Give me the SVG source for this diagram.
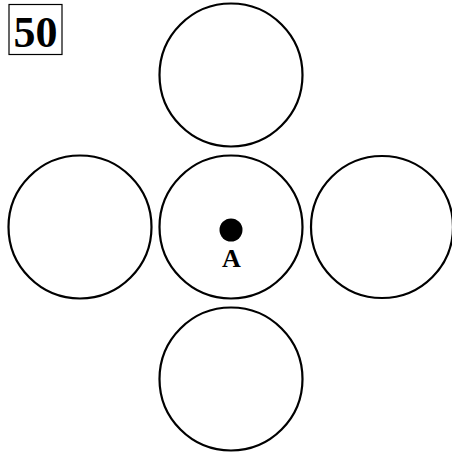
<svg xmlns="http://www.w3.org/2000/svg" width="452" height="459" viewBox="0 0 452 459">
<style>
.c{fill:none;stroke:#000;stroke-width:2.2}
.t{font-family:"Liberation Serif","Times New Roman",serif;font-weight:bold;text-anchor:middle;fill:#000}
</style>
<rect width="452" height="459" fill="#fff"/>
<g id="label50">
<rect x="9" y="4.5" width="53" height="50" fill="#fff" stroke="#000" stroke-width="1.2"/>
<text class="t" x="35.5" y="46.5" font-size="44">50</text>
</g>
<g id="top"><circle class="c" cx="231" cy="75" r="71.5"/></g>
<g id="left"><circle class="c" cx="80" cy="227" r="71.5"/></g>
<g id="center"><circle class="c" cx="231" cy="227" r="71.5"/>
<circle cx="231" cy="230" r="11.5" fill="#000"/>
<text class="t" x="231.5" y="267" font-size="26">A</text>
</g>
<g id="right"><circle class="c" cx="382" cy="227" r="71"/></g>
<g id="bottom"><circle class="c" cx="231" cy="379" r="71.5"/></g>
<g id="connectors"/>
</svg>
